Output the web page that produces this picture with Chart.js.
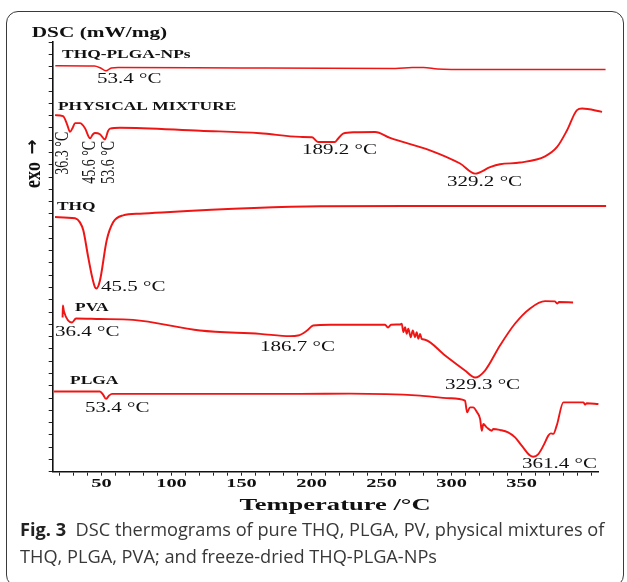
<!DOCTYPE html>
<html>
<head>
<meta charset="utf-8">
<script src="https://cdn.jsdelivr.net/npm/chart.js@4.4.1/dist/chart.umd.min.js"></script>
<style>
  html, body { margin: 0; padding: 0; background: #fff; }
  #wrap { position: relative; width: 627px; height: 582px; overflow: hidden; }
  #frame { position: absolute; left: 6px; top: 11px; width: 616px; height: 574px;
           border: 1.5px solid #3a3a3a; border-radius: 12px; }
  canvas { position: absolute; left: 0; top: 0; }
  #cap { position: absolute; left: 20px; top: 516px; font-family: 'Open Sans', sans-serif;
         font-size: 18.2px; line-height: 27px; color: #383838; white-space: nowrap; }
  #cap b { color: #222; }
</style>
</head>
<body>
<div id="wrap">
  <div id="frame"></div>
  <canvas id="dsc" width="627" height="582"></canvas>
  <div id="cap"><b>Fig. 3</b>&nbsp;&nbsp;DSC thermograms of pure THQ, PLGA, PV, physical mixtures of<br>THQ, PLGA, PVA; and freeze-dried THQ-PLGA-NPs</div>
</div>
<script>
// temperatures (°C) and stacked heat-flow signal (arbitrary offset units)
const npsT = [17, 45, 49, 53.2, 57, 62, 150, 260, 272, 280, 290, 300, 350, 410];
const npsV = [33.06, 33.04, 32.9, 32.65, 32.88, 32.92, 32.88, 32.85, 32.93, 32.93, 32.8, 32.77, 32.77, 32.77];

const mixT = [16.8, 22.5, 25.4, 27.5, 29.6, 31.1, 34.6, 38.2, 41.8, 43.9, 45.4, 48.9, 52.5, 54.6, 56.1, 63.2,
  120.4, 163.2, 191.8, 200.4, 204.6, 216.8, 218.9, 222.5, 231.1, 245.4, 256.1, 284.6, 306.1, 316.8,
  327.5, 334.6, 348.9, 366.8, 375.4, 382.5, 389.6, 393.2, 407.5];
const mixV = [29.04, 28.96, 28.3, 27.68, 28.06, 28.39, 28.39, 27.98, 27.16, 27.49, 27.59, 27.49, 27.06, 27.73, 27.95, 28.02,
  27.77, 27.57, 27.27, 27.24, 26.86, 26.86, 27.12, 27.54, 27.65, 27.67, 27.19, 26.18, 25.1, 24.28,
  24.8, 25.04, 25.18, 25.69, 26.45, 27.81, 29.45, 29.58, 29.31];

const thqT = [16.8, 31.1, 34.6, 37.0, 40.4, 43.2, 45.4, 46.4, 48.9, 53.7, 58.4, 65.4, 77.5, 206.1, 277.5, 410.4];
const thqV = [20.74, 20.64, 20.31, 19.66, 17.54, 15.91, 15.01, 14.93, 15.58, 18.84, 20.33, 20.88, 21.02, 21.62, 21.64, 21.64];

const pvaT = [22.2, 22.4, 23.2, 28.9, 31.8, 48.9, 72.5, 120.4, 163.2, 184.6, 190.4, 196.8, 201.1, 213.2, 252.5,
  254.6, 256.8, 263.2, 264.4, 265.6, 266.8, 268.0, 269.1, 270.9, 272.3, 273.9, 275.1, 276.3, 277.5, 278.7,
  281.1, 295.4, 309.6, 316.8, 323.9, 334.6, 345.4, 356.1, 366.8, 373.9, 375.4, 376.8, 386.8];
const pvaV = [12.56, 13.54, 13.05, 12.15, 12.48, 12.44, 12.37, 11.5, 11.23, 11.04, 11.09, 11.5, 11.91, 11.97, 11.97,
  11.75, 11.97, 11.99, 12.05, 11.36, 11.77, 11.23, 11.64, 10.95, 11.5, 10.95, 11.36, 10.82, 11.23, 10.82,
  10.75, 9.46, 8.24, 7.67, 8.24, 10.28, 12.07, 13.3, 13.89, 13.87, 13.7, 13.82, 13.78];

const plgaT = [16.1, 48.9, 51.1, 53.2, 55.4, 57.5, 120.4, 191.8, 227.5, 277.5, 298.9, 309.6, 311.1, 313.2, 315.4,
  318.2, 320.4, 321.6, 322.7, 325.1, 328.7, 329.9, 334.6, 340.4, 345.4, 350.1, 356.1, 358.4, 362.0, 365.6,
  369.1, 370.9, 372.7, 375.1, 379.9, 394.2, 395.4, 396.6, 404.9];
const plgaV = [6.53, 6.53, 6.28, 5.93, 6.2, 6.34, 6.34, 6.34, 6.36, 6.2, 5.98, 5.79, 4.84, 5.24, 5.24,
  4.84, 4.3, 3.34, 3.89, 3.61, 3.34, 3.48, 3.4, 3.21, 2.8, 2.12, 1.31, 1.22, 1.44, 2.12,
  2.94, 3.12, 3.08, 3.75, 5.65, 5.65, 5.46, 5.57, 5.52];

const xTickLabels = [50, 100, 150, 200, 250, 300, 350];
const seriesNames = ['THQ-PLGA-NPs', 'PHYSICAL MIXTURE', 'THQ', 'PVA', 'PLGA'];
const peakLabels = ['53.4 °C', '189.2 °C', '329.2 °C', '45.5 °C', '36.4 °C', '186.7 °C', '329.3 °C', '53.4 °C', '361.4 °C'];
const mixPeakLabels = ['36.3 °C', '45.6 °C', '53.6 °C'];

// where the texts sit, in data units
const namePos = [[21.8, 33.93], [18.9, 29.69], [18.2, 21.53], [31.1, 13.38], [27.5, 7.42]];
const peakPos = [[46.8, 31.97], [193.2, 26.18], [296.8, 23.57], [49.6, 15.01], [16.8, 11.34],
  [163.2, 10.11], [295.4, 7.01], [38.2, 5.14], [350.3, 0.65]];
const mixPeakPos = [[22.5, 25.94], [41.8, 25.2], [55.4, 25.2]];

const RED = '#f01515';
const pts = (t, v) => t.map((x, i) => ({ x, y: v[i] }));

function txt(ctx, s, x, y, font, sx, align, rot) {
  ctx.save();
  ctx.translate(x, y);
  if (rot) { ctx.rotate(-Math.PI / 2); ctx.scale(1, sx); } else { ctx.scale(sx, 1); }
  ctx.font = font;
  ctx.fillStyle = '#111';
  ctx.textAlign = align;
  ctx.textBaseline = 'middle';
  ctx.fillText(s, 0, 0);
  ctx.restore();
}

const textPlugin = {
  id: 'dscText',
  afterDraw(chart) {
    const { ctx, chartArea: a, scales: { x, y } } = chart;
    const serif = "'Liberation Serif', 'Times New Roman', serif";
    xTickLabels.forEach(v => txt(ctx, String(v), x.getPixelForValue(v), a.bottom + 12, 'bold 12px ' + serif, 1.7, 'center'));
    txt(ctx, 'Temperature /°C', 335, a.bottom + 34, 'bold 17px ' + serif, 1.56, 'center');
    txt(ctx, 'DSC (mW/mg)', a.left - 21, a.top - 9, 'bold 15px ' + serif, 1.42, 'left');
    txt(ctx, 'exo', a.left - 19, 175, 'bold 18px ' + serif, 1.25, 'center', true);
    txt(ctx, '→', a.left - 19, 147, "bold 18px 'DejaVu Sans', sans-serif", 1.0, 'center', true);
    seriesNames.forEach((s, i) => txt(ctx, s, x.getPixelForValue(namePos[i][0]), y.getPixelForValue(namePos[i][1]),
      'bold 12px ' + serif, 1.45, 'left'));
    peakLabels.forEach((s, i) => txt(ctx, s, x.getPixelForValue(peakPos[i][0]), y.getPixelForValue(peakPos[i][1]),
      '14.5px ' + serif, 1.45, 'left'));
    mixPeakLabels.forEach((s, i) => txt(ctx, s, x.getPixelForValue(mixPeakPos[i][0]), y.getPixelForValue(mixPeakPos[i][1]),
      '14px ' + serif, 1.4, 'center', true));
  }
};

const ds = (label, t, v, w) => ({
  label, data: pts(t, v), borderColor: RED, borderWidth: w, pointRadius: 0,
  cubicInterpolationMode: 'monotone', clip: false, fill: false
});

new Chart(document.getElementById('dsc'), {
  type: 'line',
  data: {
    datasets: [
      ds(seriesNames[0], npsT, npsV, 1.5),
      ds(seriesNames[1], mixT, mixV, 1.9),
      ds(seriesNames[2], thqT, thqV, 2),
      ds(seriesNames[3], pvaT, pvaV, 1.9),
      ds(seriesNames[4], plgaT, plgaV, 1.9)
    ]
  },
  options: {
    responsive: false,
    animation: false,
    layout: { padding: { left: 48.7, right: 29, top: 42, bottom: 106.3 } },
    plugins: { legend: { display: false }, tooltip: { enabled: false } },
    scales: {
      x: {
        type: 'linear', min: 15.14, max: 404.6,
        ticks: { display: false, stepSize: 10, includeBounds: false },
        grid: { drawOnChartArea: false, drawTicks: true, tickLength: 4, color: '#222', lineWidth: 1 },
        border: { display: true, color: '#111', width: 1.6 }
      },
      y: {
        min: 0, max: 35,
        ticks: { display: false, stepSize: 1 },
        grid: { drawOnChartArea: false, drawTicks: true, tickLength: 4, color: '#222', lineWidth: 1 },
        border: { display: true, color: '#111', width: 1.6 }
      }
    }
  },
  plugins: [textPlugin]
});
</script>
</body>
</html>
